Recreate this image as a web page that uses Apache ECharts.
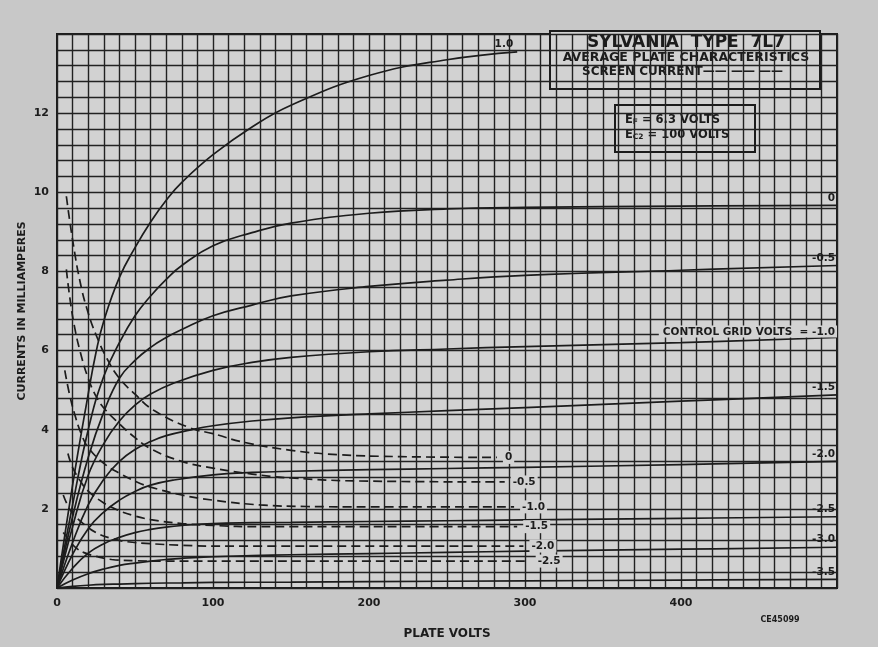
<!DOCTYPE html>
<html>
<head>
<meta charset="utf-8">
<script src="https://cdn.jsdelivr.net/npm/echarts@6/dist/echarts.min.js"></script>
<style>
  html, body { margin: 0; padding: 0; background: #c8c8c8; }
  #chart { width: 878px; height: 647px; }
</style>
</head>
<body>
<div id="chart"></div>
<script>
// plate current (mA) vs plate volts, one list per control grid voltage
var ib_p10 = [[0,0],[10,2.6],[20,4.9],[25,5.95],[30,6.75],[40,7.85],[50,8.6],[60,9.25],[70,9.8],[80,10.25],[100,10.95],[125,11.65],[150,12.2],[200,12.95],[250,13.35],[295,13.55]];
var ib_0   = [[0,0],[10,2.1],[20,4.0],[30,5.35],[40,6.2],[50,6.88],[60,7.38],[70,7.8],[80,8.15],[100,8.65],[125,8.98],[150,9.22],[200,9.47],[250,9.58],[300,9.62],[400,9.65],[500,9.67]];
var ib_m05 = [[0,0],[10,1.8],[20,3.3],[30,4.45],[40,5.3],[50,5.75],[60,6.08],[70,6.33],[80,6.53],[100,6.88],[125,7.15],[150,7.38],[200,7.62],[250,7.78],[300,7.9],[400,8.03],[500,8.15]];
var ib_m10 = [[0,0],[10,1.55],[20,2.85],[30,3.65],[40,4.22],[50,4.62],[60,4.9],[75,5.18],[100,5.5],[125,5.7],[150,5.83],[200,5.97],[250,6.04],[300,6.1],[400,6.2],[500,6.33]];
var ib_m15 = [[0,0],[10,1.15],[20,2.1],[30,2.75],[40,3.2],[50,3.5],[60,3.7],[70,3.85],[85,3.99],[100,4.1],[125,4.22],[150,4.3],[200,4.4],[250,4.48],[300,4.56],[400,4.72],[500,4.88]];
var ib_m20 = [[0,0],[10,0.85],[20,1.5],[30,1.92],[40,2.22],[50,2.44],[60,2.6],[75,2.73],[100,2.86],[125,2.92],[150,2.95],[200,2.99],[250,3.02],[300,3.05],[400,3.12],[500,3.2]];
var ib_m25 = [[0,0],[10,0.5],[20,0.88],[30,1.12],[40,1.28],[50,1.4],[60,1.48],[70,1.54],[80,1.58],[100,1.63],[125,1.65],[150,1.66],[200,1.68],[250,1.7],[300,1.72],[400,1.76],[500,1.8]];
var ib_m30 = [[0,0],[10,0.2],[20,0.36],[30,0.48],[40,0.57],[50,0.63],[60,0.68],[70,0.72],[80,0.75],[100,0.79],[125,0.82],[150,0.84],[200,0.87],[250,0.9],[300,0.93],[400,0.98],[500,1.03]];
var ib_m35 = [[0,0],[10,0.04],[20,0.07],[30,0.09],[40,0.1],[60,0.12],[80,0.13],[100,0.14],[150,0.15],[200,0.16],[300,0.18],[400,0.2],[500,0.22]];

// screen current (mA), dashed
var ic2_0   = [[6,9.9],[10,8.8],[15,7.7],[20,6.95],[25,6.4],[32,5.8],[40,5.3],[50,4.9],[62,4.49],[85,4.05],[100,3.9],[120,3.68],[150,3.48],[180,3.37],[220,3.32],[282,3.3]];
var ic2_m05 = [[6,8.05],[8,7.4],[11,6.65],[15,5.95],[20,5.3],[25,4.85],[30,4.55],[40,4.15],[50,3.8],[60,3.52],[80,3.2],[100,3.03],[125,2.88],[150,2.78],[200,2.7],[287,2.68]];
var ic2_m10 = [[5,5.5],[8,4.9],[12,4.3],[16,3.85],[20,3.55],[30,3.15],[40,2.9],[50,2.7],[60,2.55],[80,2.35],[100,2.22],[130,2.1],[160,2.06],[200,2.05],[293,2.05]];
var ic2_m15 = [[7,3.4],[10,3.05],[15,2.7],[20,2.45],[30,2.15],[40,1.95],[50,1.82],[60,1.73],[80,1.63],[100,1.58],[130,1.55],[295,1.55]];
var ic2_m20 = [[4,2.35],[8,2.0],[12,1.8],[17,1.62],[25,1.4],[35,1.25],[45,1.17],[60,1.12],[80,1.08],[100,1.06],[299,1.06]];
var ic2_m25 = [[4,1.4],[8,1.2],[12,1.02],[17,0.9],[25,0.8],[35,0.72],[50,0.69],[70,0.68],[303,0.68]];

var plateCurves  = [ib_p10, ib_0, ib_m05, ib_m10, ib_m15, ib_m20, ib_m25, ib_m30, ib_m35];
var plateNames   = ['1.0', '0', '-0.5', 'CONTROL GRID VOLTS  = -1.0', '-1.5', '-2.0', '-2.5', '-3.0', '-3.5'];
var screenCurves = [ic2_0, ic2_m05, ic2_m10, ic2_m15, ic2_m20, ic2_m25];
var screenNames  = ['0', '-0.5', '-1.0', '-1.5', '-2.0', '-2.5'];

var xTickLabels = [0, 100, 200, 300, 400];
var yTickLabels = [2, 4, 6, 8, 10, 12];

var ink = '#1c1c1c';
var paper = '#d2d2d2';
var font = 'DejaVu Sans';

var chart = echarts.init(document.getElementById('chart'));

var series = [];
plateCurves.forEach(function (d, i) {
    series.push({
        name: plateNames[i],
        type: 'line',
        data: d,
        smooth: 0.45,
        showSymbol: false,
        lineStyle: { color: ink, width: 1.7 },
        endLabel: {
            show: true,
            formatter: plateNames[i],
            color: ink,
            fontFamily: font,
            fontWeight: 'bold',
            fontSize: 10.5,
            align: 'right',
            verticalAlign: 'bottom',
            distance: i === 0 ? -2 : 0,
            backgroundColor: i === 3 ? paper : 'transparent',
            padding: i === 3 ? [1, 2, 0, 4] : [0, 2, 2, 0]
        },
        z: 3
    });
});
screenCurves.forEach(function (d, i) {
    series.push({
        name: 'Ic2 ' + screenNames[i],
        type: 'line',
        data: d,
        smooth: 0.45,
        showSymbol: false,
        lineStyle: { color: ink, width: 1.7, type: [9, 5] },
        endLabel: {
            show: true,
            formatter: screenNames[i],
            color: ink,
            fontFamily: font,
            fontWeight: 'bold',
            fontSize: 10.5,
            distance: 6,
            backgroundColor: paper,
            padding: [1, 2]
        },
        z: 3
    });
});

var option = {
    backgroundColor: '#c8c8c8',
    animation: false,
    grid: {
        left: 57, right: 41, top: 34, bottom: 59,
        show: true,
        backgroundColor: paper,
        borderColor: ink,
        borderWidth: 2
    },
    xAxis: {
        type: 'value',
        min: 0, max: 500, interval: 10,
        name: 'PLATE VOLTS',
        nameLocation: 'middle',
        nameGap: 40,
        nameTextStyle: { color: ink, fontFamily: font, fontWeight: 'bold', fontSize: 12 },
        axisLine: { show: false },
        axisTick: { show: false },
        axisLabel: {
            color: ink, fontFamily: font, fontWeight: 'bold', fontSize: 11, margin: 10,
            formatter: function (v) { return xTickLabels.indexOf(v) >= 0 ? String(v) : ''; }
        },
        splitLine: { show: true, lineStyle: { color: '#222', width: 1.4 } }
    },
    yAxis: {
        type: 'value',
        min: 0, max: 14, interval: 0.4,
        name: 'CURRENTS IN MILLIAMPERES',
        nameLocation: 'middle',
        nameRotate: 90,
        nameGap: 29,
        nameMoveOverlap: false,
        nameTextStyle: { color: ink, fontFamily: font, fontWeight: 'bold', fontSize: 11 },
        axisLine: { show: false },
        axisTick: { show: false },
        axisLabel: {
            color: ink, fontFamily: font, fontWeight: 'bold', fontSize: 11, margin: 8,
            formatter: function (v) {
                var r = Math.round(v * 10) / 10;
                return yTickLabels.indexOf(r) >= 0 ? String(r) : '';
            }
        },
        splitLine: { show: true, lineStyle: { color: '#222', width: 1.4 } }
    },
    graphic: [
        {
            type: 'group', z: 100,
            children: [
                { type: 'rect', shape: { x: 550, y: 31, width: 270, height: 58 },
                  style: { fill: paper, stroke: ink, lineWidth: 2 } },
                { type: 'text', x: 686, y: 43, style: { text: 'SYLVANIA  TYPE  7L7', fill: ink,
                  font: 'bold 17px "DejaVu Sans"', textAlign: 'center', textVerticalAlign: 'middle' } },
                { type: 'text', x: 686, y: 58, style: { text: 'AVERAGE PLATE CHARACTERISTICS', fill: ink,
                  font: 'bold 12.5px "DejaVu Sans"', textAlign: 'center', textVerticalAlign: 'middle' } },
                { type: 'text', x: 582, y: 72, style: { text: 'SCREEN CURRENT\u2014\u2014 \u2014\u2014 \u2014\u2014', fill: ink,
                  font: 'bold 12px "DejaVu Sans"', textAlign: 'left', textVerticalAlign: 'middle' } },

                { type: 'rect', shape: { x: 615, y: 105, width: 140, height: 47 },
                  style: { fill: paper, stroke: ink, lineWidth: 2 } },
                { type: 'text', x: 625, y: 120, style: {
                  text: 'E{s|F} = 6.3 VOLTS', fill: ink, font: 'bold 11.5px "DejaVu Sans"',
                  textVerticalAlign: 'middle', rich: { s: { fontSize: 7.5, fontWeight: 'bold', fontFamily: font, padding: [4, 0, 0, 0] } } } },
                { type: 'text', x: 625, y: 135, style: {
                  text: 'E{s|C2} = 100 VOLTS', fill: ink, font: 'bold 11.5px "DejaVu Sans"',
                  textVerticalAlign: 'middle', rich: { s: { fontSize: 7.5, fontWeight: 'bold', fontFamily: font, padding: [4, 0, 0, 0] } } } },

                { type: 'text', x: 780, y: 620, style: { text: 'CE45099', fill: ink,
                  font: 'bold 8px "DejaVu Sans"', textAlign: 'center', textVerticalAlign: 'middle' } }
            ]
        }
    ],
    series: series
};

chart.setOption(option);
</script>
</body>
</html>
